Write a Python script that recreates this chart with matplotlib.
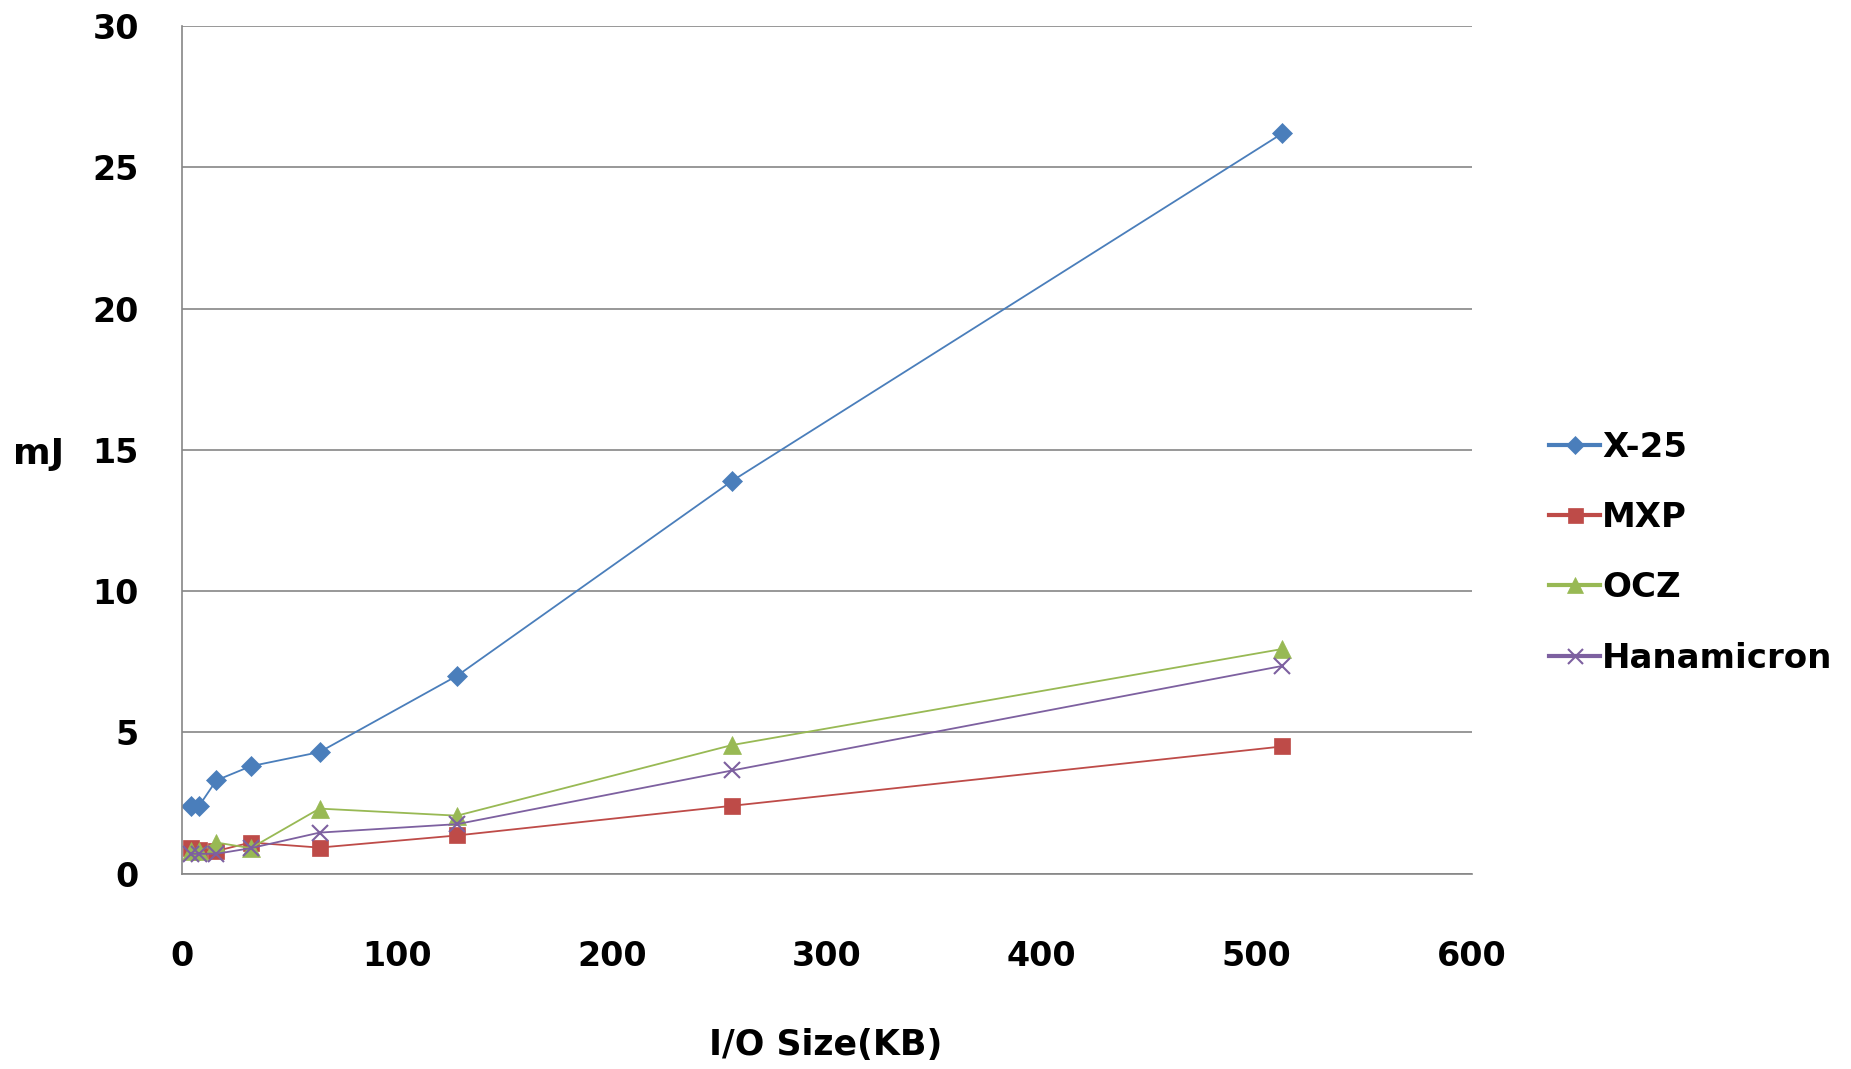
import matplotlib.pyplot as plt
import numpy as np

io_size = [4, 8, 16, 32, 64, 128, 256, 512]
x25 = [2.4, 2.4, 3.3, 3.8, 4.3, 7.0, 13.9, 26.2]
mxp = [0.9, 0.85, 0.8, 1.1, 0.92, 1.35, 2.4, 4.5]
ocz = [0.8, 0.8, 1.1, 0.9, 2.3, 2.05, 4.55, 7.95]
hana = [0.7, 0.7, 0.7, 0.9, 1.45, 1.75, 3.65, 7.35]

series = [
	('X-25', x25, '#4a7ebb', 'D', 10.5),
	('MXP', mxp, '#be4b48', 's', 12),
	('OCZ', ocz, '#98b954', '^', 13),
	('Hanamicron', hana, '#7d60a0', 'x', 12),
]

fig = plt.figure(figsize=(18.51, 10.69), dpi=100)
ax = fig.add_axes([0.0983, 0.1828, 0.6967, 0.7929])

for name, vals, col, mk, ms in series:
	ax.plot(io_size, vals, color=col, marker=mk, markersize=ms, linewidth=1.3,
			markeredgewidth=1.5 if mk == 'x' else 0.5, markeredgecolor=col, label=name)

ax.set_xlim(0, 600)
ax.set_ylim(0, 30)
ax.set_xticks(np.arange(0, 601, 100))
ax.set_yticks(np.arange(0, 31, 5))
ax.grid(True, axis='y', color='#868686', linewidth=1.2)
ax.set_axisbelow(True)
for s in ['top', 'right']:
	ax.spines[s].set_visible(False)
for s in ['left', 'bottom']:
	ax.spines[s].set_color('#868686')
	ax.spines[s].set_linewidth(1.2)
ax.tick_params(length=0, labelsize=24)
ax.tick_params(axis='y', pad=31)
ax.tick_params(axis='x', pad=48)
for lab in ax.get_xticklabels() + ax.get_yticklabels():
	lab.set_fontweight('bold')

fig.text(0.007, 0.575, 'mJ', fontsize=26, fontweight='bold', va='center', ha='left')
fig.text(0.446, 0.022, 'I/O Size(KB)', fontsize=25, fontweight='bold', va='center', ha='center')

leg = fig.legend(loc='center left', bbox_to_anchor=(0.8205, 0.483), frameon=False,
		   prop={'size': 24.5, 'weight': 'bold'}, handlelength=1.5, handletextpad=0.05,
		   labelspacing=1.1, markerscale=0.9)
for ln in leg.get_lines():
	ln.set_linewidth(3)

plt.savefig('out.png', dpi=100)
